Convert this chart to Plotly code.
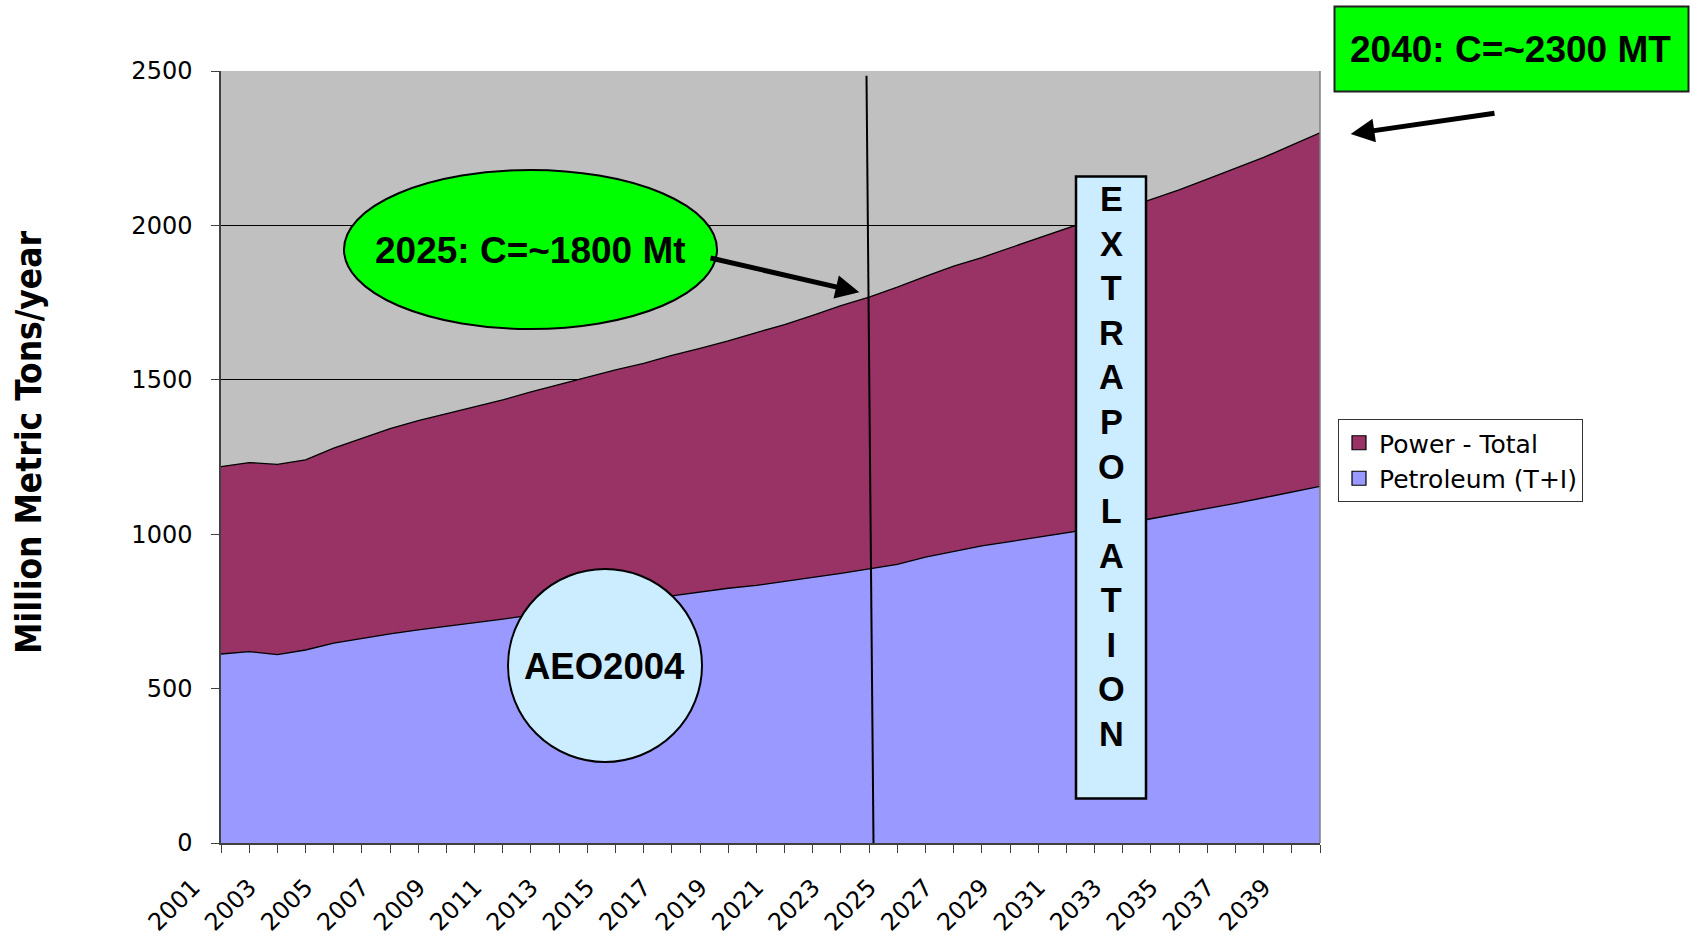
import plotly.graph_objects as go

# Annual CO2 emissions, million metric tons per year (AEO2004 projection, then extrapolated)
years = list(range(2001, 2041))
petroleum = [612, 620, 610, 625, 647, 663, 677, 690, 701, 712,
             725, 738, 751, 764, 776, 788, 800, 812, 825, 834,
             846, 860, 873, 887, 902, 926, 945, 962, 976, 990,
             1003, 1018, 1033, 1050, 1066, 1083, 1100, 1118, 1136, 1155]
total = [1219, 1232, 1226, 1241, 1279, 1310, 1342, 1368, 1390, 1412,
         1435, 1461, 1485, 1507, 1532, 1553, 1579, 1602, 1626, 1653,
         1679, 1709, 1740, 1768, 1800, 1835, 1868, 1896, 1927, 1958,
         1990, 2020, 2052, 2082, 2115, 2150, 2185, 2220, 2260, 2300]
power = [t - p for t, p in zip(total, petroleum)]

x_tick_labels = [str(y) if (y - 2001) % 2 == 0 else "" for y in years]
y_ticks = [0, 500, 1000, 1500, 2000, 2500]

PETRO_COLOR = "#9999FF"
POWER_COLOR = "#993366"
NOTE_FILL = "#CCECFF"
GREEN = "#00FF00"

# plot area geometry in page pixels
W, H = 1697, 937
L, R, T, B = 221, 1320, 71, 843


def px(x):
    return (x - L) / (R - L)


def py(y):
    return (B - y) / (B - T)


fig = go.Figure()

fig.add_trace(go.Scatter(
    x=years, y=petroleum, name="Petroleum (T+I)", stackgroup="co2",
    mode="lines", line=dict(color="black", width=1.3),
    fillcolor=PETRO_COLOR, showlegend=False, hoverinfo="skip"))
fig.add_trace(go.Scatter(
    x=years, y=power, name="Power - Total", stackgroup="co2",
    mode="lines", line=dict(color="black", width=1.3),
    fillcolor=POWER_COLOR, showlegend=False, hoverinfo="skip"))

# square legend swatches
for name, color in [("Power - Total", POWER_COLOR), ("Petroleum (T+I)", PETRO_COLOR)]:
    fig.add_trace(go.Scatter(
        x=[None], y=[None], mode="markers", name=name,
        marker=dict(symbol="square", size=14, color=color,
                    line=dict(color="black", width=1.2))))

tick_font = dict(family="DejaVu Sans", size=24, color="black")

fig.update_layout(
    width=W, height=H,
    margin=dict(l=L, r=W - R, t=T, b=H - B, autoexpand=False),
    paper_bgcolor="white",
    plot_bgcolor="#C0C0C0",
    showlegend=True,
    legend=dict(
        x=px(1338), y=py(419), xanchor="left", yanchor="top",
        traceorder="normal",
        bgcolor="white", bordercolor="#333333", borderwidth=1,
        font=dict(family="DejaVu Sans", size=25, color="black"),
        itemwidth=30),
    xaxis=dict(
        range=[2001, 2040], tickmode="array", tickvals=years,
        ticktext=x_tick_labels, tickangle=-45, ticks="outside",
        ticklen=8, tickcolor="#404040", tickwidth=1.2,
        showline=True, linecolor="#404040", linewidth=1.5,
        showgrid=False, zeroline=False, tickfont=tick_font,
        ticklabelshift=-28, ticklabelstandoff=11),
    yaxis=dict(
        range=[0, 2500], tickmode="array", tickvals=y_ticks,
        ticks="outside", ticklen=8, tickcolor="#404040", tickwidth=1.2,
        showline=True, linecolor="#404040", linewidth=1.5,
        mirror=False, showgrid=True, gridcolor="black", gridwidth=1,
        zeroline=False, tickfont=tick_font, ticklabelstandoff=14),
)

# right border of the plot area
fig.add_shape(type="line", xref="paper", yref="paper",
              x0=1, x1=1, y0=0, y1=1, line=dict(color="#808080", width=1.5),
              layer="above")

# projection / extrapolation divider
fig.add_shape(type="line", xref="paper", yref="paper",
              x0=px(866.5), y0=py(75.8), x1=px(873.5), y1=py(843),
              line=dict(color="black", width=2), layer="above")

# callout shapes
fig.add_shape(type="circle", xref="paper", yref="paper",
              x0=px(344), x1=px(717), y0=py(329), y1=py(170),
              fillcolor=GREEN, line=dict(color="black", width=2), layer="above")
fig.add_shape(type="circle", xref="paper", yref="paper",
              x0=px(508), x1=px(702), y0=py(762), y1=py(569),
              fillcolor=NOTE_FILL, line=dict(color="black", width=2), layer="above")
fig.add_shape(type="rect", xref="paper", yref="paper",
              x0=px(1076), x1=px(1146), y0=py(798.5), y1=py(176.5),
              fillcolor=NOTE_FILL, line=dict(color="black", width=2.5), layer="above")
fig.add_shape(type="rect", xref="paper", yref="paper",
              x0=px(1334.5), x1=px(1688.5), y0=py(91.5), y1=py(6.5),
              fillcolor=GREEN, line=dict(color="#202020", width=2), layer="above")

bold = dict(family="Liberation Sans, Arial", color="black")
centered = dict(xref="paper", yref="paper", showarrow=False,
                xanchor="center", yanchor="middle")

fig.add_annotation(x=px(530.5), y=py(250), text="<b>2025: C=~1800 Mt</b>",
                   font=dict(size=37, **bold), **centered)
fig.add_annotation(x=px(604), y=py(666), text="<b>AEO2004</b>",
                   font=dict(size=36.5, **bold), **centered)
fig.add_annotation(x=px(1111), y=py(466),
                   text="<b>" + "<br>".join("EXTRAPOLATION") + "</b>",
                   font=dict(size=34.3, **bold), **centered)
fig.add_annotation(x=px(1510), y=py(50), text="<b>2040: C=~2300 MT</b>",
                   font=dict(size=37, **bold), **centered)

# arrows (tip position, tail given as pixel offset from the tip)
for tip, tail in [((859.3, 292.3), (709, 257.6)), ((1350.7, 134), (1496, 113))]:
    fig.add_annotation(xref="paper", yref="paper", axref="pixel", ayref="pixel",
                       x=px(tip[0]), y=py(tip[1]),
                       ax=tail[0] - tip[0], ay=tail[1] - tip[1],
                       text="", showarrow=True, arrowhead=2, arrowsize=0.95,
                       arrowwidth=5, arrowcolor="black", standoff=0)

# y-axis title
fig.add_annotation(x=px(29), y=py(443), text="<b>Million Metric Tons/year</b>",
                   textangle=-90,
                   font=dict(family="Liberation Sans Narrow, DejaVu Sans Condensed, Arial Narrow",
                             size=35, color="black"), **centered)

fig.write_html("out.html")
